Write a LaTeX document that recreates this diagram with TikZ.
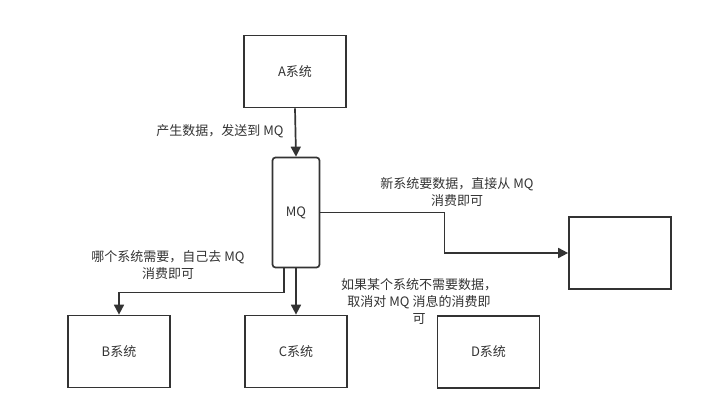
\documentclass[tikz,border=0pt]{standalone}
\usepackage{fontspec}
\setmainfont{Noto Sans CJK SC}
\usepackage{tikz}
\usetikzlibrary{arrows.meta,calc}
\definecolor{linegray}{HTML}{333333}
\definecolor{textgray}{HTML}{333333}

\tikzset{
  sysbox/.style = {draw=linegray, line width=1.7pt, minimum width=102pt, minimum height=72pt,
                   inner sep=0pt, text=textgray, font=\fontsize{13}{17}\selectfont},
  mqbox/.style  = {sysbox, minimum width=47pt, minimum height=110pt, rounded corners=3pt},
  note/.style   = {align=center, text=textgray, inner sep=0pt, font=\fontsize{13}{17}\selectfont},
  arr/.style    = {draw=linegray, line width=1.7pt, -{Triangle[length=10pt,width=10pt]}}
}

\begin{document}
\begin{tikzpicture}[x=1pt,y=-1pt]
\useasboundingbox (0,0) rectangle (727,419);

% systems
\node[sysbox]  (A)  at (295,71.5)  {A系统};
\node[mqbox]   (MQ) at (296,212.5) {MQ};
\node[sysbox]  (B)  at (119,351.5) {B系统};
\node[sysbox]  (C)  at (296,351.5) {C系统};
\node[sysbox]  (D)  at (488.5,352) {D系统};
\node[sysbox]  (E)  at (620,253)   {};

% connectors
\draw[arr] (A.south) -- (MQ.north);
\draw[arr] (MQ.east) -- ++(124,0) |- (E.west);
\draw[arr] ([xshift=-12pt]MQ.south) -- ++(0,24) -| (B.north);
\draw[arr] (MQ.south) -- (C.north);

% labels
\node[note] (l1) at (220,131) {产生数据，发送到 MQ};
\node[note] (l2) at (457,192) {新系统要数据，直接从 MQ\\消费即可};
\node[note] (l3) at (168,265) {哪个系统需要，自己去 MQ\\消费即可};
\node[note] (l4) at (419,302) {如果某个系统不需要数据，\\取消对 MQ 消息的消费即\\可};
\end{tikzpicture}
\end{document}
